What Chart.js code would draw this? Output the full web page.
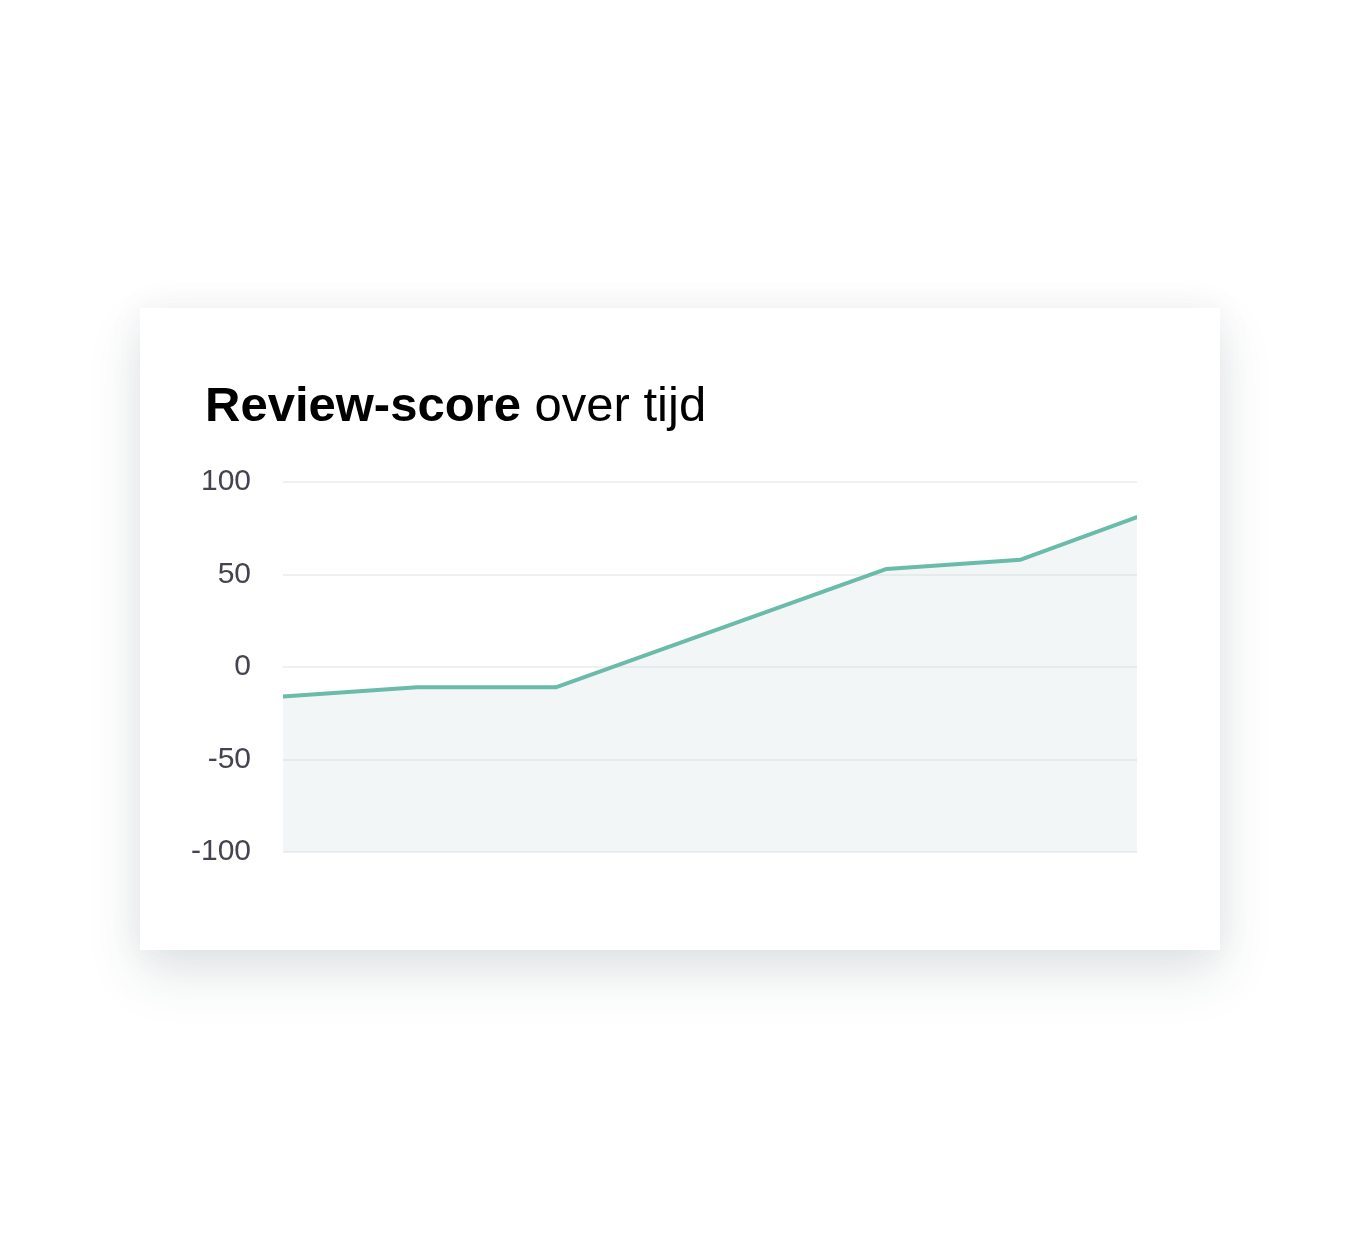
<!DOCTYPE html>
<html>
<head>
<meta charset="utf-8">
<script src="https://cdn.jsdelivr.net/npm/chart.js@4"></script>
<style>
  html, body { margin: 0; padding: 0; background: #ffffff; }
  body { width: 1360px; height: 1260px; position: relative; overflow: hidden; font-family: "Liberation Sans", Arial, sans-serif; }
  #card { position: absolute; left: 140px; top: 308px; width: 1080px; height: 642px; background: #ffffff;
          box-shadow: 0 24px 50px rgba(40, 60, 70, 0.13), 0 0 36px rgba(40, 60, 70, 0.05); }
  #title { position: absolute; left: 65px; top: 68px; margin: 0; font-size: 49px; font-weight: normal; color: #000; white-space: nowrap; line-height: normal; }
  #title b { font-weight: bold; }
  #wrap { position: absolute; left: 20px; top: 132px; width: 1000px; height: 450px; }
  canvas { display: block; }
</style>
</head>
<body>
<div id="card">
  <h1 id="title"><b>Review-score</b> over tijd</h1>
  <div id="wrap"><canvas id="c" width="1000" height="450"></canvas></div>
</div>
<script>
const days = [0, 30, 61, 135, 165, 191];
const scores = [-16, -11, -11, 53, 58, 81];
const yTicks = [100, 50, 0, -50, -100];

const points = days.map((d, i) => ({ x: d, y: scores[i] }));

new Chart(document.getElementById('c'), {
  type: 'line',
  data: {
    datasets: [{
      data: points,
      borderColor: '#6bbbaa',
      borderWidth: 4,
      backgroundColor: 'rgba(195, 210, 215, 0.2)',
      fill: 'start',
      tension: 0,
      pointRadius: 0,
      borderCapStyle: 'round',
      borderJoinStyle: 'round'
    }]
  },
  options: {
    responsive: false,
    animation: false,
    devicePixelRatio: 1,
    layout: { padding: { left: 0, right: 23, top: 42, bottom: 38 } },
    plugins: { legend: { display: false }, tooltip: { enabled: false }, title: { display: false } },
    scales: {
      x: {
        type: 'linear',
        min: days[0],
        max: days[days.length - 1],
        display: false
      },
      y: {
        min: -100,
        max: 100,
        afterFit: (s) => { s.width = 123; s.paddingTop = 0; s.paddingBottom = 0; },
        afterBuildTicks: (s) => { s.ticks = yTicks.map(v => ({ value: v })); },
        border: { display: false },
        grid: { color: '#eef0f1', lineWidth: 2, drawTicks: false },
        ticks: {
          padding: 32,
          color: '#45434f',
          font: { family: '"Liberation Sans", Arial, sans-serif', size: 30 }
        }
      }
    }
  }
});
</script>
</body>
</html>
